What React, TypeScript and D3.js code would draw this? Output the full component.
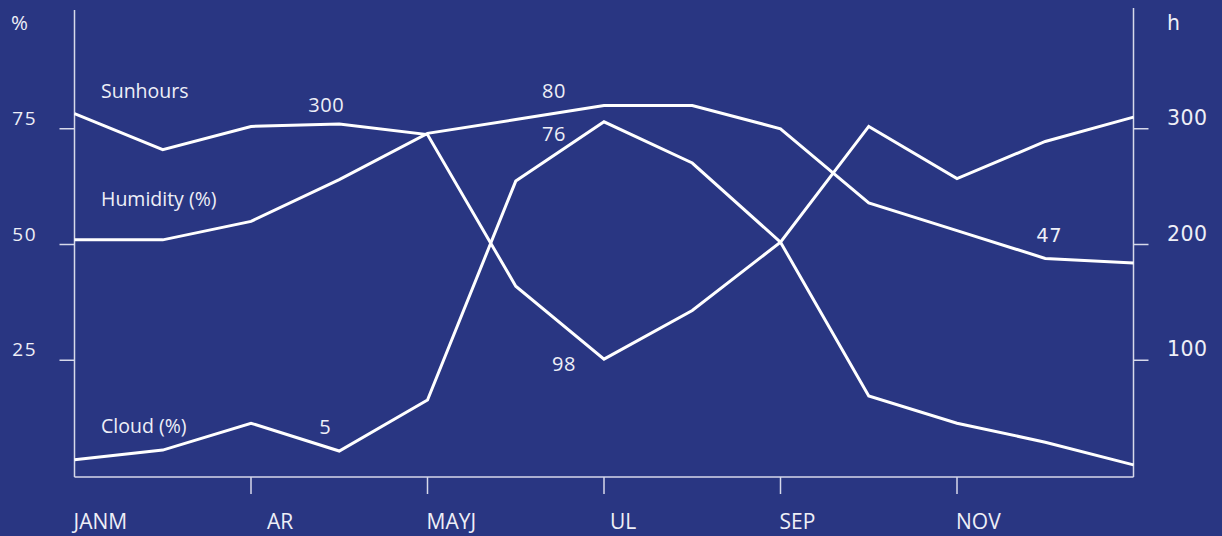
import React from "react";
import * as d3 from "d3";

const months = ["Jan", "Feb", "Mar", "Apr", "May", "Jun", "Jul", "Aug", "Sep", "Oct", "Nov", "Dec", "Jan2"];
const sunhours = [313, 282, 302, 304, 295, 164, 101, 143, 202, 302, 257, 289, 310];
const humidity = [51, 51, 55, 64, 74, 77, 80, 80, 75, 59, 53, 47, 46];
const cloud = [3.5, 5.6, 11.4, 5.4, 16.4, 63.7, 76.5, 67.6, 50.5, 17.3, 11.4, 7.3, 2.4];
const leftTicks = [25, 50, 75];
const rightTicks = [100, 200, 300];
const xTickIdx = [2, 4, 6, 8, 10];
const xLabels = [
  { idx: 0, text: "JANM" },
  { idx: 2, text: "AR" },
  { idx: 4, text: "MAYJ" },
  { idx: 6, text: "UL" },
  { idx: 8, text: "SEP" },
  { idx: 10, text: "NOV" },
];
// value annotations: series, month index, text
const valueLabels = [
  { series: "sun", idx: 3, text: "300" },
  { series: "hum", idx: 6, text: "80" },
  { series: "cloud", idx: 6, text: "76" },
  { series: "sun", idx: 6, text: "98" },
  { series: "cloud", idx: 3, text: "5" },
  { series: "hum", idx: 11, text: "47" },
];
const seriesNames = [
  { series: "sun", text: "Sunhours" },
  { series: "hum", text: "Humidity (%)" },
  { series: "cloud", text: "Cloud (%)" },
];

const W = 1222;
const H = 536;
const BG = "#293682";
const TXT = "#eeeff7";
const AX = "#d7d9ea";

export default function App() {
  const x = d3.scaleLinear().domain([0, 12]).range([74.5, 1133.5]);
  const yL = d3.scaleLinear().domain([0, 100]).range([476, 13]);
  const yR = d3.scaleLinear().domain([0, 400]).range([476, 13]);
  const lineL = d3.line<number>().x((_, i) => x(i)).y((d) => yL(d));
  const lineR = d3.line<number>().x((_, i) => x(i)).y((d) => yR(d));
  const bottom = 477;

  const pos = (s: string, i: number) => {
    if (s === "sun") return yR(sunhours[i]);
    if (s === "hum") return yL(humidity[i]);
    return yL(cloud[i]);
  };
  const labelOffsets: Record<string, [number, number, string]> = {
    "300": [-13, -12, "Open Sans"],
    "80": [-50, -8, "Open Sans"],
    "76": [-50, 19, "Open Sans"],
    "98": [-40, 12, "Open Sans"],
    "5": [-14, -17, "Open Sans"],
    "47": [4, -16, "DejaVu Sans"],
  };
  const nameY: Record<string, number> = { sun: 98, hum: 206, cloud: 433 };

  return (
    <svg
      width={W}
      height={H}
      style={{ position: "absolute", left: 0, top: 0, display: "block" }}
    >
      <rect x={0} y={0} width={W} height={H} fill={BG} />
      {/* axes */}
      <line x1={x(0)} x2={x(0)} y1={10} y2={bottom} stroke={AX} strokeWidth={1.5} />
      <line x1={x(12)} x2={x(12)} y1={8} y2={bottom} stroke={AX} strokeWidth={1.5} />
      <line x1={x(0)} x2={x(12)} y1={bottom} y2={bottom} stroke={AX} strokeWidth={1.5} />
      {leftTicks.map((t) => (
        <g key={"l" + t}>
          <line x1={x(0) - 15} x2={x(0)} y1={yL(t)} y2={yL(t)} stroke={AX} strokeWidth={1.5} />
          <text x={37} y={yL(t) - 4} textAnchor="end" fill={TXT} fontFamily="Open Sans" fontSize={19} letterSpacing={1.5}>
            {t}
          </text>
        </g>
      ))}
      {rightTicks.map((t) => (
        <g key={"r" + t}>
          <line x1={x(12)} x2={x(12) + 15} y1={yR(t)} y2={yR(t)} stroke={AX} strokeWidth={1.5} />
          <text x={1167} y={yR(t) - 4} fill={TXT} fontFamily="DejaVu Sans" fontSize={20.5} letterSpacing={0.5}>
            {t}
          </text>
        </g>
      ))}
      {xTickIdx.map((i) => (
        <line key={"x" + i} x1={x(i)} x2={x(i)} y1={bottom} y2={bottom + 17} stroke={AX} strokeWidth={1.5} />
      ))}
      {xLabels.map((l) => (
        <text
          key={l.text}
          x={x(l.idx) + (l.text === "AR" ? 16 : l.text === "UL" ? 6 : -1)}
          y={529}
          fill={TXT}
          fontFamily="Open Sans"
          fontSize={21}
        >
          {l.text}
        </text>
      ))}
      <text x={11} y={30} fill={TXT} fontFamily="Open Sans" fontSize={20.5}>%</text>
      <text x={1167} y={30} fill={TXT} fontFamily="DejaVu Sans" fontSize={20.5}>h</text>

      {/* series */}
      <path d={lineR(sunhours) || ""} fill="none" stroke="#fff" strokeWidth={3} strokeLinejoin="miter" />
      <path d={lineL(humidity) || ""} fill="none" stroke="#fff" strokeWidth={3} strokeLinejoin="miter" />
      <path d={lineL(cloud) || ""} fill="none" stroke="#fff" strokeWidth={3} strokeLinejoin="miter" />

      {seriesNames.map((s) => (
        <text key={s.series} x={101} y={nameY[s.series]} fill={TXT} fontFamily="Open Sans" fontSize={19.5}>
          {s.text}
        </text>
      ))}
      {valueLabels.map((v) => {
        const [dx, dy, ff] = labelOffsets[v.text];
        return (
          <text
            key={v.series + v.idx}
            x={x(v.idx) + dx}
            y={pos(v.series, v.idx) + dy}
            textAnchor="middle"
            fill={TXT}
            fontFamily={ff}
            fontSize={ff === "DejaVu Sans" ? 19.5 : 20}
            letterSpacing={0.5}
          >
            {v.text}
          </text>
        );
      })}
    </svg>
  );
}
